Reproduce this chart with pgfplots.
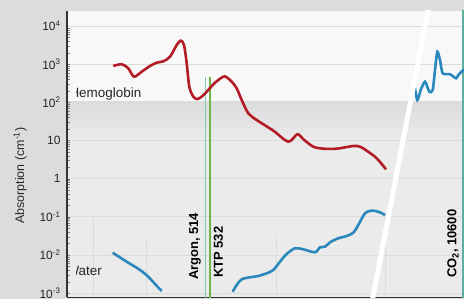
\documentclass[border=0pt]{standalone}
\usepackage{fontspec}
\setmainfont{Liberation Sans}
\usepackage{pgfplots}
\pgfplotsset{compat=1.18}
\definecolor{panel}{HTML}{DCDCDC}
\definecolor{plotlow}{HTML}{EBEBEB}
\definecolor{plottop}{HTML}{F8F8F8}
\definecolor{bandtop}{HTML}{DCDCDC}
\definecolor{gridc}{HTML}{DCDCDC}
\definecolor{hbred}{HTML}{B21C24}
\definecolor{wblue}{HTML}{2A88BD}
\definecolor{laserA}{RGB}{130,196,190}
\definecolor{laserK}{RGB}{110,180,70}
\definecolor{laserC}{RGB}{95,175,159}

\begin{document}
\begin{tikzpicture}
\fill[panel] (0bp,0bp) rectangle (464bp,299bp);
\useasboundingbox (0bp,0bp) rectangle (464bp,299bp);
\fill[plotlow] (67bp,1.7bp) rectangle (464bp,288bp);
\fill[plottop] (67bp,197.3bp) rectangle (464bp,288bp);
\shade[top color=bandtop, bottom color=plotlow] (67bp,197.3bp) rectangle (464bp,157bp);
\begin{axis}[
  scale only axis,
  width=397bp, height=286.3bp,
  at={(67bp,1.7bp)}, anchor=south west,
  xmin=67, xmax=464,
  ymode=log, ymin=7.8e-4, ymax=2.47e4,
  axis x line*=bottom, axis y line*=left,
  axis line style={-, color=black!80, line width=1.2bp},
  xtick=\empty,
  ytick={1e-3,1e-2,1e-1,1,10,100,1000,10000},
  yticklabels={10\textsuperscript{-3},10\textsuperscript{-2},10\textsuperscript{-1},1,10,10\textsuperscript{2},10\textsuperscript{3},10\textsuperscript{4}},
  major tick length=0pt,
  yticklabel style={font=\fontsize{12}{14}\selectfont, xshift=-3bp, text=black!85},
  ymajorgrids,
  grid style={gridc, line width=0.8bp},
  ylabel={Absorption (cm\textsuperscript{-1})},
  ylabel style={at={(axis description cs:-0.118,0.425)}, anchor=center, font=\fontsize{12.5}{15}\selectfont, text=black!85},
  clip=true,
]
\draw[gridc, line width=0.8bp] (axis cs:93,7.8e-4) -- (axis cs:93,0.1);
\draw[gridc, line width=0.8bp] (axis cs:146,7.8e-4) -- (axis cs:146,0.03);
\draw[gridc, line width=0.8bp] (axis cs:276,7.8e-4) -- (axis cs:276,0.03);
\draw[gridc, line width=0.8bp] (axis cs:385,7.8e-4) -- (axis cs:385,0.12);

% laser lines
\addplot[draw=laserA, line width=1.7bp] coordinates {(205.5,5e-4) (205.5,470)};
\addplot[draw=laserK, line width=1.5bp] coordinates {(210,5e-4) (210,470)};
\addplot[draw=laserC, line width=1.3bp] coordinates {(463,5e-4) (463,3e4)};

% hemoglobin
\addplot[hbred, line width=2.6bp, smooth, tension=0.5] coordinates {
(113.3,895) (121.7,993) (128.3,780) (134,470) (141.7,635) (150,895) (156.7,1094)
(163.3,1189) (170,1570) (176.7,3177) (180.7,4121) (184,3177) (186.7,1054) (189.3,257)
(193.3,141) (197.3,122) (201.7,141) (206.7,190) (215,327) (223.3,470) (226.7,453)
(231.7,348) (236.7,233) (241.7,115) (248.3,51.6) (256.7,34.4) (273.3,18.1) (288.3,9.31)
(297.3,14.6) (303.3,10.8) (313.3,6.89) (323.3,6.10) (336.7,6.10) (353.3,7.18) (360,6.89)
(366.7,5.41) (376.7,3.42) (386,1.76)};

% water
\addplot[wblue, line width=2.6bp, smooth, tension=0.5] coordinates {
(112.7,0.0115) (126.7,0.00668) (140,0.00406) (148.3,0.00270) (155,0.00174) (161.7,0.00114)};
\addplot[wblue, line width=2.6bp, smooth, tension=0.5] coordinates {
(232.7,0.00109) (236.7,0.00164) (241.7,0.00231) (250,0.00261) (258.3,0.00282) (266.7,0.00332)
(273.3,0.00406) (280,0.00668) (286.7,0.01064) (295,0.0150) (303.3,0.0141) (315,0.0118)
(320,0.0159) (325,0.0165) (330,0.0215) (338.3,0.0274) (346.7,0.0315) (353.3,0.0385)
(358.3,0.0612) (365,0.124) (371.7,0.145) (378.3,0.136) (385,0.112)};
\addplot[wblue, line width=2.6bp, smooth, tension=0.4] coordinates {
(414,330) (417.3,115) (420.7,210) (425,348) (429.3,190) (432.7,210) (435,703) (437.3,2124)
(440,1285) (442.7,577) (450,543) (456,427) (458.3,520) (463.3,703) (466,720)};

% axis break
\addplot[white, line width=5bp] coordinates {(430,4.8e4) (372.6,7.05e-4)};

\node[rotate=90, anchor=west, inner sep=0, font=\bfseries\fontsize{13}{15}\selectfont] at (axis cs:195,0.00221) {Argon, 514};
\node[rotate=90, anchor=west, inner sep=0, font=\bfseries\fontsize{13}{15}\selectfont] at (axis cs:218.3,0.0025) {KTP 532};
\node[rotate=90, anchor=west, inner sep=0, font=\bfseries\fontsize{13}{15}\selectfont] at (axis cs:453,0.0025) {CO\textsubscript{2}, 10600};
\end{axis}
\begin{scope}
\clip (76.5bp,1.7bp) rectangle (464bp,288bp);
\node[anchor=base west, inner sep=0, font=\fontsize{13.5}{15}\selectfont, text=black!85] at (69.3bp,201.7bp) {Hemoglobin};
\node[anchor=base west, inner sep=0, font=\fontsize{13.5}{15}\selectfont, text=black!85] at (66.3bp,24bp) {Water};
\end{scope}
\end{tikzpicture}
\end{document}
